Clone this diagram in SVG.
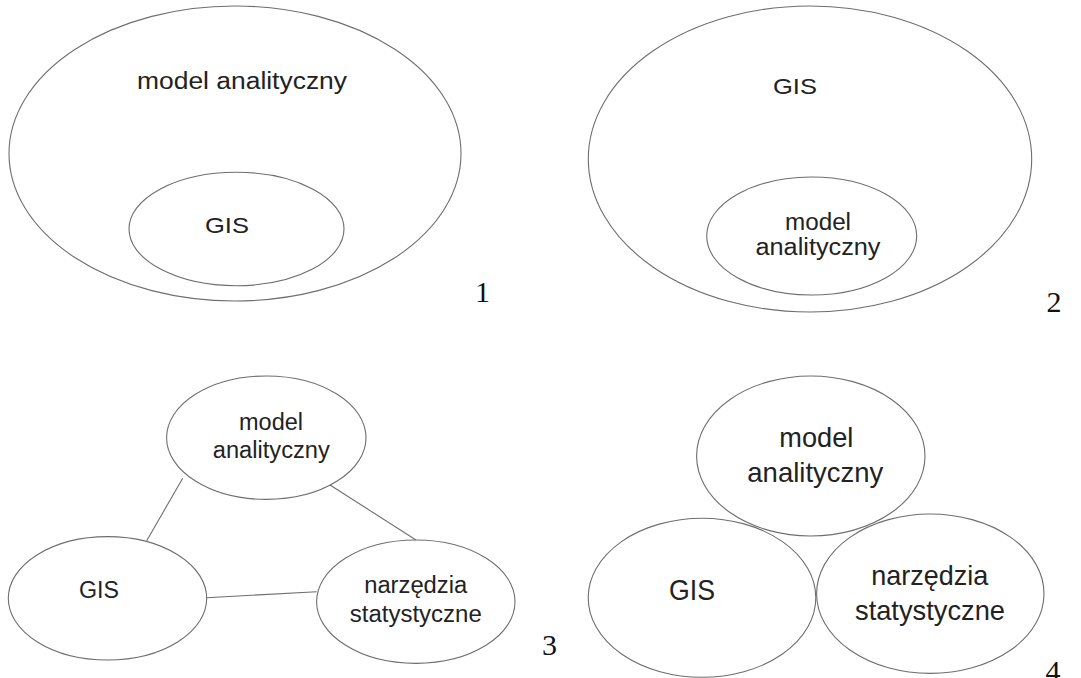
<svg xmlns="http://www.w3.org/2000/svg" width="1081" height="678" viewBox="0 0 1081 678">
<style>
.e{fill:none;stroke:#6e6e6e;stroke-width:1.1}
.c{stroke:#6e6e6e;stroke-width:1.1;fill:none}
.t{font-family:"Liberation Sans",Arial,sans-serif;fill:#222;text-anchor:middle}
.n{font-family:"Liberation Serif","Times New Roman",serif;fill:#111;font-size:30px;text-anchor:middle}
</style>
<rect width="1081" height="678" fill="#fff"/>
<g id="p1-model">
<ellipse class="e" cx="235" cy="153.5" rx="226" ry="147.5"/>
<text class="t" x="242" y="89" font-size="23" textLength="210" lengthAdjust="spacingAndGlyphs">model analityczny</text>
</g>
<g id="p1-gis">
<ellipse class="e" cx="236.5" cy="229" rx="107.5" ry="56.7"/>
<text class="t" x="227" y="232.5" font-size="22.5" textLength="44" lengthAdjust="spacingAndGlyphs">GIS</text>
</g>
<text class="n" x="482.5" y="301.7">1</text>
<g id="p2-gis">
<ellipse class="e" cx="810" cy="159" rx="221.7" ry="153"/>
<text class="t" x="795" y="94.3" font-size="22.5" textLength="44" lengthAdjust="spacingAndGlyphs">GIS</text>
</g>
<g id="p2-model">
<ellipse class="e" cx="811.7" cy="236" rx="105" ry="59"/>
<text class="t" x="818" y="229.5" font-size="23" textLength="66" lengthAdjust="spacingAndGlyphs">model</text>
<text class="t" x="818" y="255" font-size="23" textLength="125" lengthAdjust="spacingAndGlyphs">analityczny</text>
</g>
<text class="n" x="1054" y="311.7">2</text>
<g id="connectors">
<line class="c" x1="182.7" y1="478.3" x2="146.7" y2="540.7"/>
<line class="c" x1="330" y1="485" x2="416" y2="540"/>
<line class="c" x1="206.7" y1="597.7" x2="316.7" y2="591.7"/>
</g>
<g id="p3-model">
<ellipse class="e" cx="266.3" cy="437.7" rx="99.7" ry="61.7"/>
<text class="t" x="271" y="430" font-size="23" textLength="64" lengthAdjust="spacingAndGlyphs">model</text>
<text class="t" x="271.3" y="458.3" font-size="23" textLength="117" lengthAdjust="spacingAndGlyphs">analityczny</text>
</g>
<g id="p3-gis">
<ellipse class="e" cx="107.5" cy="598.3" rx="99.2" ry="61.7"/>
<text class="t" x="99" y="598.3" font-size="23" textLength="40" lengthAdjust="spacingAndGlyphs">GIS</text>
</g>
<g id="p3-narz">
<ellipse class="e" cx="415.8" cy="601.7" rx="99.2" ry="61.7"/>
<text class="t" x="415.7" y="593.3" font-size="23" textLength="103" lengthAdjust="spacingAndGlyphs">narzędzia</text>
<text class="t" x="415.8" y="621.7" font-size="23" textLength="132" lengthAdjust="spacingAndGlyphs">statystyczne</text>
</g>
<text class="n" x="549.5" y="655">3</text>
<g id="p4-model">
<ellipse class="e" cx="810.8" cy="456" rx="114.2" ry="80"/>
<text class="t" x="816.3" y="446.7" font-size="28" textLength="74" lengthAdjust="spacingAndGlyphs">model</text>
<text class="t" x="815.3" y="481.7" font-size="28" textLength="136" lengthAdjust="spacingAndGlyphs">analityczny</text>
</g>
<g id="p4-gis">
<ellipse class="e" cx="702" cy="597.8" rx="113.8" ry="79.5"/>
<text class="t" x="692" y="600" font-size="30" textLength="46" lengthAdjust="spacingAndGlyphs">GIS</text>
</g>
<g id="p4-narz">
<ellipse class="e" cx="930.3" cy="593.7" rx="113.7" ry="79.7"/>
<text class="t" x="929.7" y="585" font-size="28" textLength="117" lengthAdjust="spacingAndGlyphs">narzędzia</text>
<text class="t" x="930" y="620" font-size="28" textLength="150" lengthAdjust="spacingAndGlyphs">statystyczne</text>
</g>
<text class="n" x="1053" y="681">4</text>
</svg>
